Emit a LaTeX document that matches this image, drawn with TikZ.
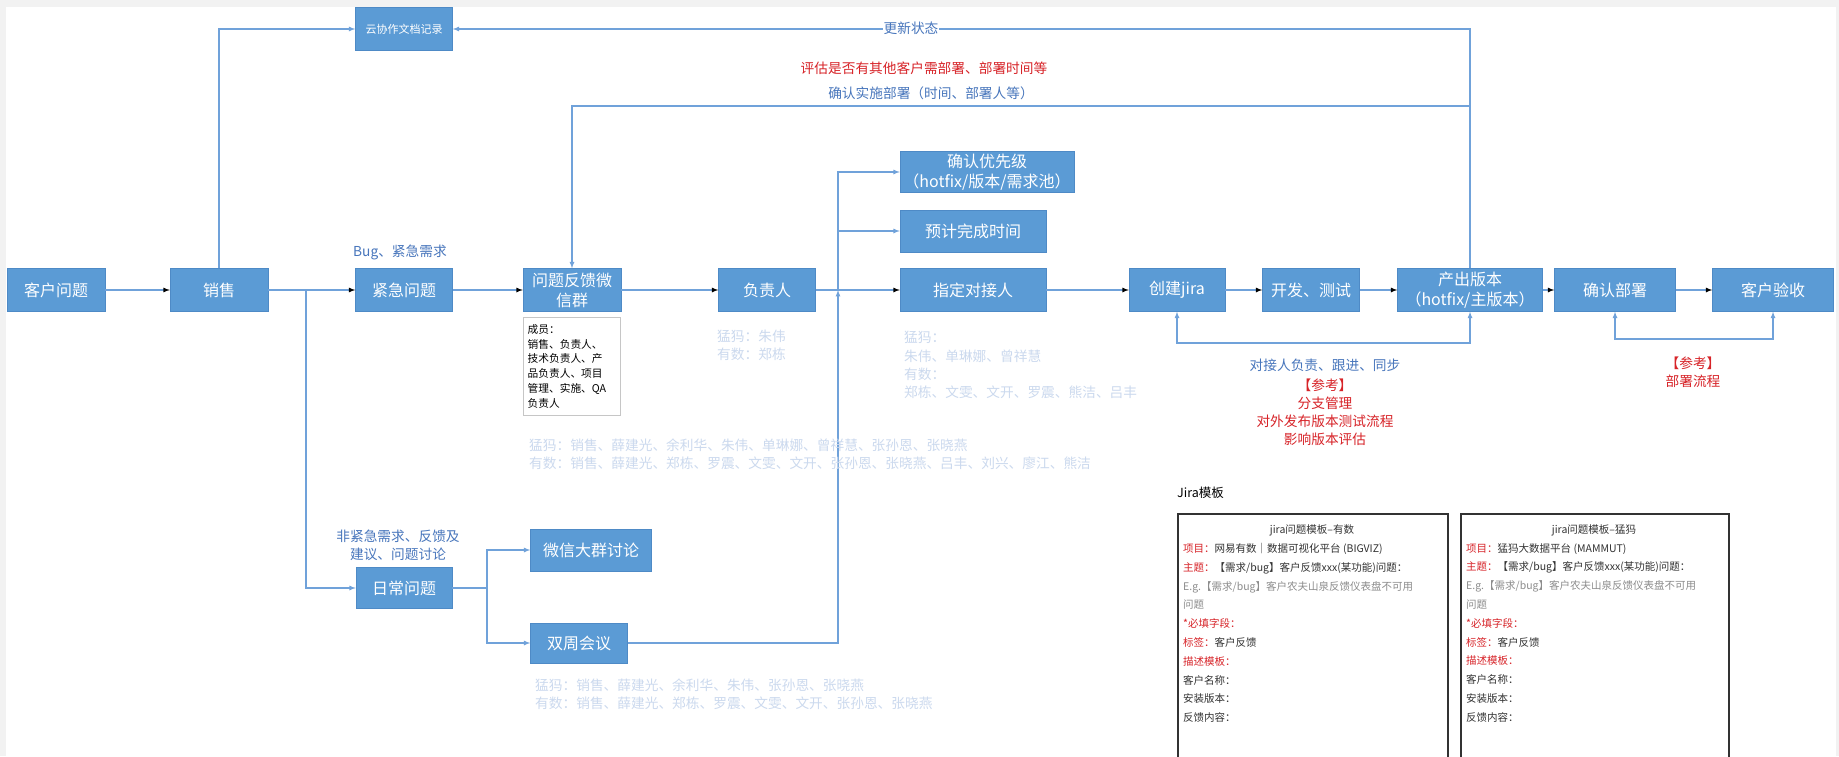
\documentclass[tikz,border=0pt]{standalone}
\usepackage{fontspec}
\setmainfont{Noto Sans CJK SC}
\usetikzlibrary{positioning, arrows, calc}

\definecolor{boxblue}{RGB}{91,155,213}
\definecolor{boxedge}{RGB}{78,138,198}
\definecolor{lineblue}{RGB}{112,162,218}
\definecolor{labelblue}{RGB}{72,118,188}
\definecolor{remred}{RGB}{215,35,40}
\definecolor{fadeblue}{RGB}{203,217,238}
\definecolor{edgegray}{RGB}{242,242,242}
\definecolor{tplgray}{RGB}{140,140,140}
\definecolor{tplink}{RGB}{50,50,50}

\begin{document}
\begin{tikzpicture}[x=1pt, y=-1pt, >=latex,
    blk/.style={rectangle, fill=boxblue, draw=boxedge, text=white, minimum height=43,
        minimum width=#1, inner sep=1pt, align=center, font=\fontsize{16}{20}\selectfont},
    blk/.default=97,
    lnk/.style={draw=lineblue, line width=1.2},
    lbl/.style={text=labelblue, inner sep=1pt, align=center, font=\fontsize{13.7}{18}\selectfont},
    rem/.style={lbl, text=remred},
    who/.style={text=fadeblue, inner sep=0pt, anchor=west, align=left, font=\fontsize{13.7}{18.3}\selectfont},
    tpl/.style={text=tplink, inner sep=0pt, anchor=north west, align=left, font=\fontsize{10.5}{18.8}\selectfont}]

    \clip (0,0) rectangle (1839,756);
    \fill[edgegray] (0,0) rectangle (1839,756);
    \fill[white] (6,7) rectangle (1836,760);

    % main chain
    \node[blk=98] (kh) at (56,290) {客户问题};
    \node[blk=98] (xs) at (219,290) {销售};
    \node[blk] (jj) at (404,290) {紧急问题};
    \node[blk, font=\fontsize{11}{13}\selectfont] (ydoc) at (404,29) {云协作文档记录};
    \node[blk=98] (qun) at (572,290) {问题反馈微\\信群};
    \node[blk] (fzr) at (767,290) {负责人};
    \node[blk=174, minimum height=41] (yxj) at (987,172) {确认优先级\\（hotfix/版本/需求池）};
    \node[blk=146, minimum height=42] (yj) at (973,231) {预计完成时间};
    \node[blk=146] (djr) at (973,290) {指定对接人};
    \node[blk=96] (jira) at (1177,290) {创建jira};
    \node[blk] (kf) at (1311,290) {开发、测试};
    \node[blk=145] (cc) at (1470,290) {产出版本\\（hotfix/主版本）};
    \node[blk=121] (qb) at (1615,290) {确认部署};
    \node[blk=121] (ys) at (1773,290) {客户验收};

    % daily branch
    \node[blk=96, minimum height=41] (rc) at (404,588) {日常问题};
    \node[blk=121, minimum height=42] (wx) at (591,550) {微信大群讨论};
    \node[blk, minimum height=40] (sz) at (579,643) {双周会议};

    \node[draw=gray!45, fill=white, anchor=north west, minimum width=97, minimum height=98,
        text width=88, inner sep=4pt, align=left, font=\fontsize{10.7}{14.8}\selectfont]
        (mem) at (523,317) {成员：\\销售、负责人、\\技术负责人、产\\品负责人、项目\\管理、实施、QA\\负责人};

    \coordinate (b1) at (306,290);
    \coordinate (b2) at (838,290);
    \coordinate (b3) at (1470,106);
    \coordinate (b4) at (487,588);

    \path[->, lnk]
    (kh) edge (xs)
    (xs) edge (jj)
        (jj) edge (qun)
    (qun) edge (fzr)
        (fzr) edge (djr)
    (djr) edge (jira)
        (jira) edge (kf)
    (kf) edge (cc)
        (cc) edge (qb)
    (qb) edge (ys);

    \draw[->, lnk] (b1) |- (rc);
    \draw[lnk] (rc) -- (b4);
    \draw[->, lnk] (b4) |- (wx);
    \draw[->, lnk] (b4) |- (sz);
    \draw[->, lnk] (b2) |- (yxj);
    \draw[->, lnk] (b2) |- (yj);
    \draw[->, lnk] (sz) -| (b2);
    \draw[->, lnk] (xs) |- (ydoc);
    \draw[->, lnk] (cc) |- (ydoc);
    \draw[->, lnk] (b3) -| (qun);
    \draw[<->, lnk] (jira) -- ++(0,53) -| (cc);
    \draw[<->, lnk] (qb) -- ++(0,49) -| (ys);

    % labels
    \node[lbl, fill=white] (upd) at (911,28) {更新状态};
    \node[rem] (est) at (924,68) {评估是否有其他客户需部署、部署时间等};
    \node[lbl] (dep) at (931,93) {确认实施部署（时间、部署人等）};
    \node[lbl] (bug) at (400,252) {Bug、紧急需求};
    \node[lbl] (daily) at (398,545) {非紧急需求、反馈及\\建议、问题讨论};
    \node[lbl] (sync) at (1325,365) {对接人负责、跟进、同步};
    \node[rem] (ref1) at (1325,412) {【参考】\\分支管理\\对外发布版本测试流程\\影响版本评估};
    \node[rem] (ref2) at (1693,372) {【参考】\\部署流程};

    \node[who] (fzrwho) at (717,345) {猛犸：朱伟\\有数：郑栋};
    \node[who] (djrwho) at (904,365) {猛犸：\\朱伟、单琳娜、曾祥慧\\有数：\\郑栋、文雯、文开、罗震、熊洁、吕丰};
    \node[who] (qunwho) at (529,454) {猛犸：销售、薛建光、余利华、朱伟、单琳娜、曾祥慧、张孙恩、张晓燕\\有数：销售、薛建光、郑栋、罗震、文雯、文开、张孙恩、张晓燕、吕丰、刘兴、廖江、熊洁};
    \node[who] (szwho) at (535,694) {猛犸：销售、薛建光、余利华、朱伟、张孙恩、张晓燕\\有数：销售、薛建光、郑栋、罗震、文雯、文开、张孙恩、张晓燕};

    % jira templates
    \node[inner sep=0pt, anchor=west, font=\fontsize{12.5}{15}\selectfont] (jiratpl) at (1177,493) {Jira模板};

    \node[draw=tplink, line width=2, anchor=north west, minimum width=270, minimum height=270] (tplys) at (1177,513) {};
    \node[text=tplink, font=\fontsize{10.5}{13}\selectfont] (ystitle) at (1312,530) {jira问题模板--有数};
    \node[tpl] (ysbody) at (1183,543) {{\color{remred}项目：}网易有数｜数据可视化平台 (BIGVIZ)\\
        {\color{remred}主题：}【需求/bug】客户反馈xxx(某功能)问题：\\
        {\color{tplgray}E.g.【需求/bug】客户农夫山泉反馈仪表盘不可用}\\
        {\color{tplgray}问题}\\
        {\color{remred}*必填字段：}\\
        {\color{remred}标签：}客户反馈\\
        {\color{remred}描述模板：}\\
        客户名称：\\安装版本：\\反馈内容：};

    \node[draw=tplink, line width=2, anchor=north west, minimum width=268, minimum height=270] (tplmm) at (1460,513) {};
    \node[text=tplink, font=\fontsize{10.5}{13}\selectfont] (mmtitle) at (1594,530) {jira问题模板--猛犸};
    \node[tpl] (mmbody) at (1466,543) {{\color{remred}项目：}猛犸大数据平台 (MAMMUT)\\
        {\color{remred}主题：}【需求/bug】客户反馈xxx(某功能)问题：\\
        {\color{tplgray}E.g.【需求/bug】客户农夫山泉反馈仪表盘不可用}\\
        {\color{tplgray}问题}\\
        {\color{remred}*必填字段：}\\
        {\color{remred}标签：}客户反馈\\
        {\color{remred}描述模板：}\\
        客户名称：\\安装版本：\\反馈内容：};
\end{tikzpicture}
\end{document}
